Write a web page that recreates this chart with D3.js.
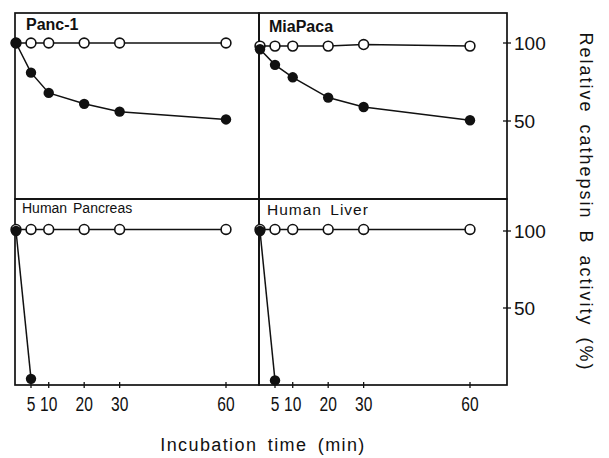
<!DOCTYPE html>
<html>
<head>
<meta charset="utf-8">
<script src="https://cdn.jsdelivr.net/npm/d3@7"></script>
<style>
  body { margin: 0; background: #fff; }
  svg { display: block; }
  text { font-family: "Liberation Sans", Arial, Helvetica, sans-serif; fill: #111; }
</style>
</head>
<body>
<svg id="chart" width="609" height="458"></svg>
<script>
// ---- data ----
const times = [0, 5, 10, 20, 30, 60];
const pancOpen   = [100, 100, 100, 100, 100, 100];
const pancFilled = [100, 81, 68, 61, 56, 51];
const miaOpen    = [98, 98, 98, 98, 99, 98];
const miaFilled  = [96, 86, 78, 65, 59, 50.5];
const hpTimes    = [0, 5];
const hpOpen     = [101, 101, 101, 101, 101, 101];
const hpFilled   = [100, 4];
const hlOpen     = [101, 101, 101, 101, 101, 101];
const hlFilled   = [100, 3];
const xTicks = [5, 10, 20, 30, 60];
const yTicks = [50, 100];
const panelNames = ["Panc-1", "MiaPaca", "Human Pancreas", "Human Liver"];

// ---- layout ----
const svg = d3.select("#chart");
const colX = [{left: 15, right: 259, x0: 16}, {left: 259, right: 507, x0: 260}];
const rowY = [{top: 13, bottom: 199, y100: 43}, {top: 199, bottom: 385, y100: 231}];

const panels = [
  {name: panelNames[0], c: 0, r: 0, open: pancOpen, openT: times, filled: pancFilled, filledT: times,
   label: {dx: 11, dy: 17, size: 16, weight: "bold", ws: 0, ls: 0}},
  {name: panelNames[1], c: 1, r: 0, open: miaOpen, openT: times, filled: miaFilled, filledT: times,
   label: {dx: 10, dy: 19, size: 16, weight: "bold", ws: 0, ls: 0}},
  {name: panelNames[2], c: 0, r: 1, open: hpOpen, openT: times, filled: hpFilled, filledT: hpTimes,
   label: {dx: 7, dy: 14, size: 14, weight: "normal", ws: 2, ls: 0}},
  {name: panelNames[3], c: 1, r: 1, open: hlOpen, openT: times, filled: hlFilled, filledT: hpTimes,
   label: {dx: 8, dy: 16, size: 15.5, weight: "normal", ws: 3, ls: 1}}
];

panels.forEach(p => {
  const col = colX[p.c], row = rowY[p.r];
  // piecewise-linear time axis (the early interval is drawn slightly compressed)
  const x = d3.scaleLinear().domain([0, 5, 60]).range([col.x0, col.x0 + 15, col.x0 + 210]);
  const y = d3.scaleLinear().domain([0, 100]).range([row.bottom, row.y100]);
  const g = svg.append("g");

  // frame
  g.append("rect")
    .attr("x", col.left).attr("y", row.top)
    .attr("width", col.right - col.left).attr("height", row.bottom - row.top)
    .attr("fill", "none").attr("stroke", "#111").attr("stroke-width", 1.7);

  // label
  g.append("text")
    .attr("x", col.left + p.label.dx).attr("y", row.top + p.label.dy)
    .attr("font-size", p.label.size).attr("font-weight", p.label.weight)
    .attr("word-spacing", p.label.ws).attr("letter-spacing", p.label.ls)
    .text(p.name);

  // bottom axis ticks (bottom row)
  if (p.r === 1) {
    g.selectAll(".xt").data(xTicks).enter().append("line")
      .attr("x1", d => x(d)).attr("x2", d => x(d))
      .attr("y1", row.bottom - 3).attr("y2", row.bottom + 3)
      .attr("stroke", "#111").attr("stroke-width", 1.3);
    g.selectAll(".xl").data(xTicks).enter().append("text")
      .attr("transform", d => `translate(${x(d)},${row.bottom + 26}) scale(0.76,1)`)
      .attr("text-anchor", "middle")
      .attr("font-size", 20.5)
      .text(d => d);
  }

  // right axis (right column)
  if (p.c === 1) {
    g.selectAll(".yt").data(yTicks).enter().append("line")
      .attr("x1", col.right - 4).attr("x2", col.right + 4)
      .attr("y1", d => y(d)).attr("y2", d => y(d))
      .attr("stroke", "#111").attr("stroke-width", 1.3);
    g.selectAll(".yl").data(yTicks).enter().append("text")
      .attr("x", col.right + 7).attr("y", d => y(d) + 7)
      .attr("font-size", 19)
      .text(d => d);
  }

  const line = d3.line().x(d => x(d[0])).y(d => y(d[1]));
  const openPts = p.openT.map((t, i) => [t, p.open[i]]);
  const filledPts = p.filledT.map((t, i) => [t, p.filled[i]]);

  g.append("path").datum(openPts).attr("d", line)
    .attr("fill", "none").attr("stroke", "#111").attr("stroke-width", 1.5);
  g.append("path").datum(filledPts).attr("d", line)
    .attr("fill", "none").attr("stroke", "#111").attr("stroke-width", 1.5);

  g.selectAll(".op").data(openPts).enter().append("circle")
    .attr("cx", d => x(d[0])).attr("cy", d => y(d[1])).attr("r", 4.9)
    .attr("fill", "#fff").attr("stroke", "#111").attr("stroke-width", 1.6);
  g.selectAll(".fp").data(filledPts).enter().append("circle")
    .attr("cx", d => x(d[0])).attr("cy", d => y(d[1])).attr("r", 5.2)
    .attr("fill", "#111");
});

// axis titles
svg.append("text")
  .attr("x", 263).attr("y", 451)
  .attr("text-anchor", "middle")
  .attr("font-size", 18).attr("font-weight", "500")
  .attr("letter-spacing", 1.4).attr("word-spacing", 4)
  .text("Incubation time (min)");

svg.append("text")
  .attr("transform", "translate(580,202) rotate(90)")
  .attr("text-anchor", "middle")
  .attr("font-size", 18).attr("font-weight", "500")
  .attr("letter-spacing", 2).attr("word-spacing", 4)
  .text("Relative cathepsin B activity (%)");
</script>
</body>
</html>
